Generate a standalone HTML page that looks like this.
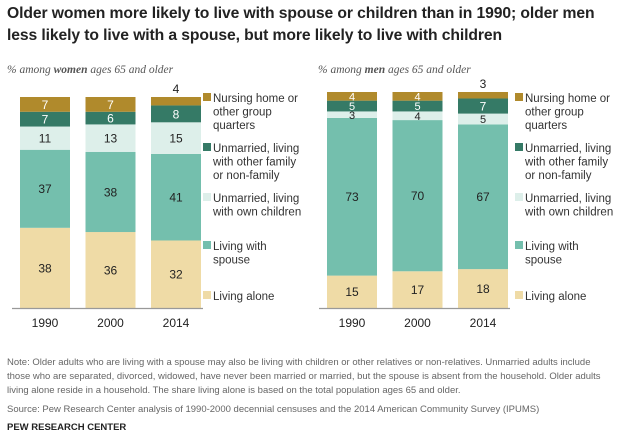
<!DOCTYPE html>
<html><head><meta charset="utf-8"><style>
body{margin:0;width:620px;height:438px;background:#fff;font-family:"Liberation Sans",sans-serif;overflow:hidden;position:relative}
.t{position:absolute;left:7px;top:3px;font-size:15.7px;font-weight:bold;line-height:22px;color:#222;width:612px;letter-spacing:-0.1px}
.sub{position:absolute;top:64px;font-family:"Liberation Serif",serif;font-style:italic;font-size:11.5px;color:#555}
.note{position:absolute;left:7px;font-size:9.5px;color:#666;line-height:14px;width:600px}
</style></head><body>
<div class="t">Older women more likely to live with spouse or children than in 1990; older men less likely to live with a spouse, but more likely to live with children</div>
<div class="sub" style="left:7px">% among <b>women</b> ages 65 and older</div>
<div class="sub" style="left:318px">% among <b>men</b> ages 65 and older</div>
<svg id="c" width="620" height="438" style="position:absolute;left:0;top:0"></svg>
<div class="note" style="top:356px">Note: Older adults who are living with a spouse may also be living with children or other relatives or non-relatives. Unmarried adults include those who are separated, divorced, widowed, have never been married or married, but the spouse is absent from the household. Older adults living alone reside in a household. The share living alone is based on the total population ages 65 and older.</div>
<div class="note" style="top:403px">Source: Pew Research Center analysis of 1990-2000 decennial censuses and the 2014 American Community Survey (IPUMS)</div>
<div class="note" style="top:421px;font-weight:bold;color:#222;font-size:9.5px">PEW RESEARCH CENTER</div>
<script>
const years=["1990","2000","2014"];
const categories=["Living alone","Living with spouse","Unmarried, living with own children","Unmarried, living with other family or non-family","Nursing home or other group quarters"];
const womenAlone=[38,36,32],womenSpouse=[37,38,41],womenChildren=[11,13,15],womenOther=[7,6,8],womenNursing=[7,7,4];
const menAlone=[15,17,18],menSpouse=[73,70,67],menChildren=[3,4,5],menOther=[5,5,7],menNursing=[4,4,3];
const colors=["#efdba6","#74bfad","#ddefea","#357a66","#b08a2c"];
const textCol=["#222","#222","#222","#fff","#fff"];
const legendLines=[["Nursing home or","other group","quarters"],["Unmarried, living","with other family","or non-family"],["Unmarried, living","with own children"],["Living with","spouse"],["Living alone"]];
const legendY=[102,152,202,250,300];
const svg=document.getElementById('c');const NS="http://www.w3.org/2000/svg";
function mk(t,a){const e=document.createElementNS(NS,t);for(const k in a)e.setAttribute(k,a[k]);svg.appendChild(e);return e;}
function draw(name,x0,scale,series,lx){
 const base=308,bw=50,gap=65.5;
 const y=v=>base-v*scale;
 years.forEach((yr,i)=>{
  let cum=0;const bx=x0+i*gap;
  series.forEach((s,j)=>{
   const v=s[i];const h=v*scale;
   const r=mk('rect',{x:bx,y:y(cum+v),width:bw,height:h,fill:colors[j]});
   
   
   const outside=(j===4&&h<8.5);
   const fs=h<12?11:12;
   const ty=outside?y(cum+v)-4:y(cum+v/2)+fs*0.37;
   const t=mk('text',{x:bx+bw/2,y:ty,'text-anchor':'middle','font-size':outside?12:fs,fill:outside?'#222':textCol[j]});
   t.textContent=v;
   
   
   cum+=v;
  });
  const l=mk('text',{x:bx+bw/2,y:327,'text-anchor':'middle','font-size':12,fill:'#222'});l.textContent=yr;
  
  
 });
 const ax=mk('line',{x1:x0-8,x2:x0+2*gap+bw+2,y1:base+0.5,y2:base+0.5,stroke:'#999','stroke-width':1.2});
 
 
 legendLines.forEach((ls,k)=>{
  const j=4-k;
  const sw=mk('rect',{x:lx,y:legendY[k]-9,width:8,height:8,fill:colors[j]});
  
  
  ls.forEach((s,m)=>{const t=mk('text',{x:lx+10,y:legendY[k]+m*13.5,'font-size':11.5,fill:'#333'});t.textContent=s;
   
   });
 });
}
draw('women',20,2.11,[womenAlone,womenSpouse,womenChildren,womenOther,womenNursing],203);
draw('men',327,2.16,[menAlone,menSpouse,menChildren,menOther,menNursing],515);
</script>
</body></html>
